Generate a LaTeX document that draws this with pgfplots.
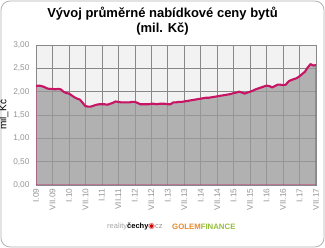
\documentclass[border=0pt]{standalone}
\usepackage{pgfplots}
\pgfplotsset{compat=1.18}
\usepackage{fontspec}
\setmainfont{Liberation Sans}
\newfontfamily\dejavu{DejaVu Sans}
\definecolor{linec}{RGB}{200,20,100}
\definecolor{fillc}{RGB}{156,156,156}
\definecolor{bgc}{RGB}{242,242,242}
\definecolor{gridc}{RGB}{136,136,136}
\definecolor{tickc}{RGB}{150,150,150}
\definecolor{golem}{RGB}{232,137,43}
\definecolor{finance}{RGB}{150,190,60}
\pgfplotstableread{
m v
0 2.12
1 2.13
2 2.12
3 2.10
4 2.07
5 2.06
6 2.06
7 2.05
8 2.06
9 2.05
10 2.00
11 1.97
12 1.96
13 1.92
14 1.88
15 1.85
16 1.83
17 1.76
18 1.69
19 1.68
20 1.68
21 1.70
22 1.72
23 1.73
24 1.73
25 1.73
26 1.72
27 1.74
28 1.76
29 1.79
30 1.78
31 1.77
32 1.77
33 1.77
34 1.77
35 1.78
36 1.78
37 1.76
38 1.73
39 1.73
40 1.73
41 1.73
42 1.74
43 1.74
44 1.73
45 1.74
46 1.74
47 1.74
48 1.73
49 1.73
50 1.77
51 1.77
52 1.78
53 1.78
54 1.79
55 1.80
56 1.81
57 1.82
58 1.83
59 1.84
60 1.85
61 1.86
62 1.87
63 1.87
64 1.88
65 1.89
66 1.90
67 1.91
68 1.92
69 1.93
70 1.94
71 1.95
72 1.97
73 1.98
74 2.00
75 1.98
76 1.96
77 1.98
78 2.00
79 2.02
80 2.05
81 2.07
82 2.09
83 2.11
84 2.13
85 2.12
86 2.09
87 2.12
88 2.15
89 2.15
90 2.14
91 2.15
92 2.22
93 2.25
94 2.27
95 2.29
96 2.33
97 2.38
98 2.43
99 2.52
100 2.59
101 2.56
102 2.57
}\datatable
\begin{document}
\begin{tikzpicture}
\useasboundingbox (0,0) rectangle (325pt,248pt);
\fill[white] (0,0) rectangle (325pt,248pt);
\draw[rounded corners=9pt, draw=gray!60, line width=0.8pt] (1pt,1pt) rectangle (324pt,247pt);
\node[font=\fontsize{13}{15}\selectfont\bfseries, align=center] at (162.5pt,227pt) {Vývoj průměrné nabídkové ceny bytů\\(mil. Kč)};
\begin{axis}[
  at={(36pt,63pt)}, anchor=south west,
  scale only axis, width=280pt, height=140pt,
  xmin=0, xmax=102, ymin=0, ymax=3,
  axis background/.style={fill=bgc},
  xtick={0,6,...,102},
  xticklabels={I.09,VII.09,I.10,VII.10,I.11,VII.11,I.12,VII.12,I.13,VII.13,I.14,VII.14,I.15,VII.15,I.16,VII.16,I.17,VII.17},
  ytick={0,0.5,...,3},
  yticklabel style={xshift=-3pt, /pgf/number format/.cd, fixed, fixed zerofill, precision=2, use comma, assume math mode=true},
  ticklabel style={font=\fontsize{8.3}{10}\selectfont, text=tickc},
  xticklabel style={rotate=90, anchor=east},
  major tick length=0pt,
  grid=major, major grid style={gridc, line width=0.6pt},
  axis line style={gridc, line width=0.6pt},
  ylabel={mil\_Kč},
  ylabel style={font=\fontsize{10}{12}\selectfont, at={(ticklabel cs:0.5)}, anchor=south, yshift=-2pt},
  xtick pos=bottom, ytick pos=left,
]
\addplot[fill=fillc, fill opacity=0.75, draw=linec, line width=0.8pt] table[x=m,y=v]{\datatable} \closedcycle;
\addplot[draw=linec, line width=2.1pt, line join=round] table[x=m,y=v]{\datatable};
\end{axis}
\node[anchor=west, inner sep=0pt, font=\fontsize{7.5}{9}\selectfont] at (107pt,22pt) {\textcolor{gray!70}{reality}\textbf{čechy}\textcolor{red!80!black}{\dejavu ◉}\textcolor{gray!80}{cz}};
\node[anchor=west, inner sep=0pt, font=\fontsize{7.8}{9}\selectfont\bfseries] at (172pt,21pt) {\textcolor{golem}{GOLEM}\textcolor{finance}{FINANCE}};
\end{tikzpicture}
\end{document}
